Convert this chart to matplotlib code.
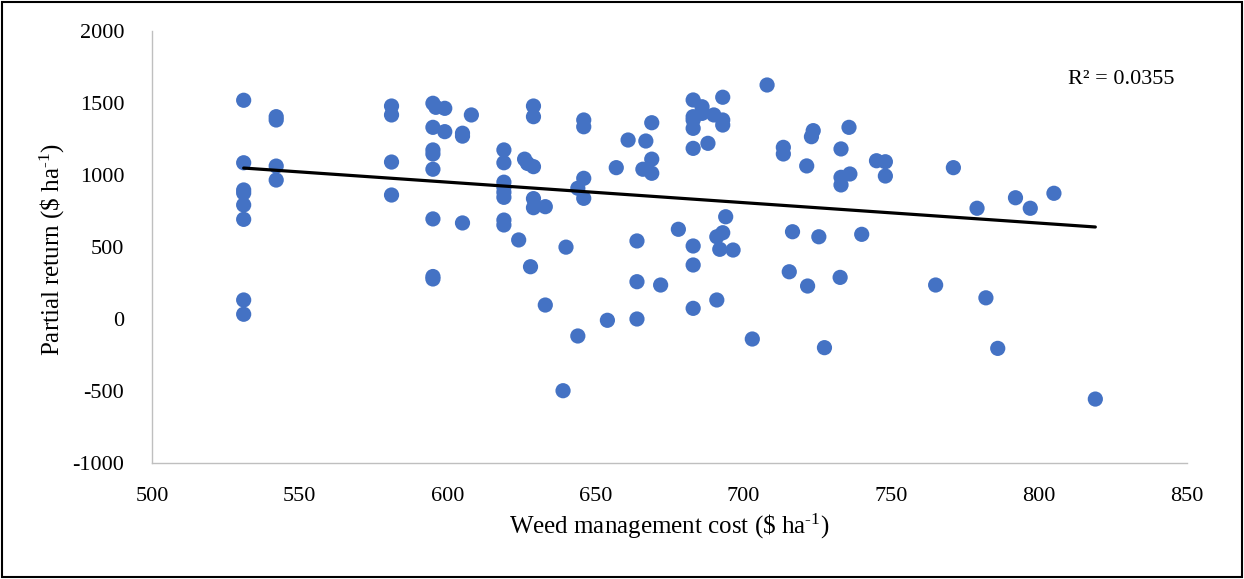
import numpy as np
import matplotlib
matplotlib.use("Agg")
import matplotlib.pyplot as plt
from matplotlib.patches import Rectangle

# ---- data ----
cost = [531, 531, 531, 531, 531, 531, 531, 531,
        542, 542, 542, 542,
        581, 581, 581, 581,
        595, 596, 595, 595, 595, 595, 595, 595, 595,
        599, 599,
        605, 605, 605,
        608,
        619, 619, 619, 619, 619, 619, 619, 619,
        624, 626, 627, 629,
        629, 629, 629, 629,
        633, 633, 628, 640, 639,
        644, 644,
        646, 646, 646, 646,
        654, 657, 661,
        664, 664, 664, 666, 667,
        669, 669, 669, 672, 678,
        683, 683, 683, 683, 683, 683, 683, 683,
        686, 686, 688, 690,
        691, 691, 693, 693, 693, 693, 694, 692, 696.5,
        703, 708, 713.5, 713.5, 715.5, 716.6, 721.4, 721.7,
        723.6, 723, 725.5, 727.4, 732.7, 733, 733, 733, 736, 735.7,
        740, 745, 748, 748, 765, 771, 779, 782, 786, 792, 797, 805, 819]
ret = [1519, 1085, 896, 875, 792, 692, 132, 33,
       1405, 1382, 1062, 965,
       1479, 1417, 1090, 861,
       1498, 1470, 1331, 1174, 1146, 1040, 695, 295, 278,
       1463, 1301,
       1290, 1270, 667,
       1417,
       1174, 1085, 950, 915, 880, 845, 687, 653,
       549, 1110, 1080, 1058,
       1479, 1405, 836, 773,
       780, 97, 363, 499, -498,
       -118, 908,
       1382, 1335, 977, 838,
       -9, 1051, 1243,
       542, 259, 0, 1040, 1236,
       1363, 1110, 1012, 236, 623,
       1521, 1405, 1382, 1324, 1185, 507, 375, 74,
       1474, 1428, 1220, 1417,
       571, 132, 1540, 1382, 1347, 599, 710, 484, 479,
       -139, 1625, 1192, 1146, 328, 606, 1063, 229,
       1308, 1266, 571, -199, 289, 1181, 984, 931, 1007, 1331,
       588, 1099, 1092, 993, 236, 1051, 769, 147, -204, 842, 769, 873, -556]
x_ticks = [500, 550, 600, 650, 700, 750, 800, 850]
y_ticks = [-1000, -500, 0, 500, 1000, 1500, 2000]
r2_label = "R² = 0.0355"

plt.rcParams['font.family'] = ['Liberation Serif', 'DejaVu Serif']
plt.rcParams['mathtext.fontset'] = 'custom'
plt.rcParams['mathtext.rm'] = 'Liberation Serif'
plt.rcParams['mathtext.it'] = 'Liberation Serif:italic'
plt.rcParams['axes.unicode_minus'] = False

W, H = 1244, 579
fig = plt.figure(figsize=(W / 100, H / 100), dpi=100)
ax = fig.add_axes([152 / W, (H - 463) / H, (1187 - 152) / W, (463 - 31) / H])

x = np.array(cost, dtype=float)
y = np.array(ret, dtype=float)
ax.scatter(x, y, s=120, color='#4472C4', edgecolors='none', zorder=3)

# linear trend line
m, b = np.polyfit(x, y, 1)
xl = np.array([x.min(), x.max()])
ax.plot(xl, m * xl + b, color='black', lw=2.3, solid_capstyle='round', zorder=4)

ax.set_xlim(500, 850)
ax.set_ylim(-1000, 2000)
ax.set_xticks(x_ticks)
ax.set_yticks(y_ticks)
ax.tick_params(length=0, labelsize=16, colors='#000000')
ax.tick_params(axis='y', pad=20)
ax.tick_params(axis='x', pad=17)
for s in ['top', 'right']:
    ax.spines[s].set_visible(False)
for s in ['left', 'bottom']:
    ax.spines[s].set_color('#BFBFBF')
    ax.spines[s].set_linewidth(1.0)

sup = '$^{\\mathrm{\u2010}1}$'
fig.text(669 / W, 1 - 526 / H, 'Weed management cost (\\$ ha' + sup + ')',
         ha='center', va='center', fontsize=18)
fig.text(52 / W, 1 - 250 / H, 'Partial return (\\$ ha' + sup + ')',
         ha='center', va='center', rotation=90, fontsize=18)
fig.text(1068 / W, 1 - 80 / H, r2_label, ha='left', va='center', fontsize=16)

fig.patches.append(Rectangle((2 / W, 2 / H), (W - 4) / W, (H - 4) / H,
                             transform=fig.transFigure, fill=False,
                             edgecolor='black', lw=1.5))

fig.savefig('out.png', dpi=100)
